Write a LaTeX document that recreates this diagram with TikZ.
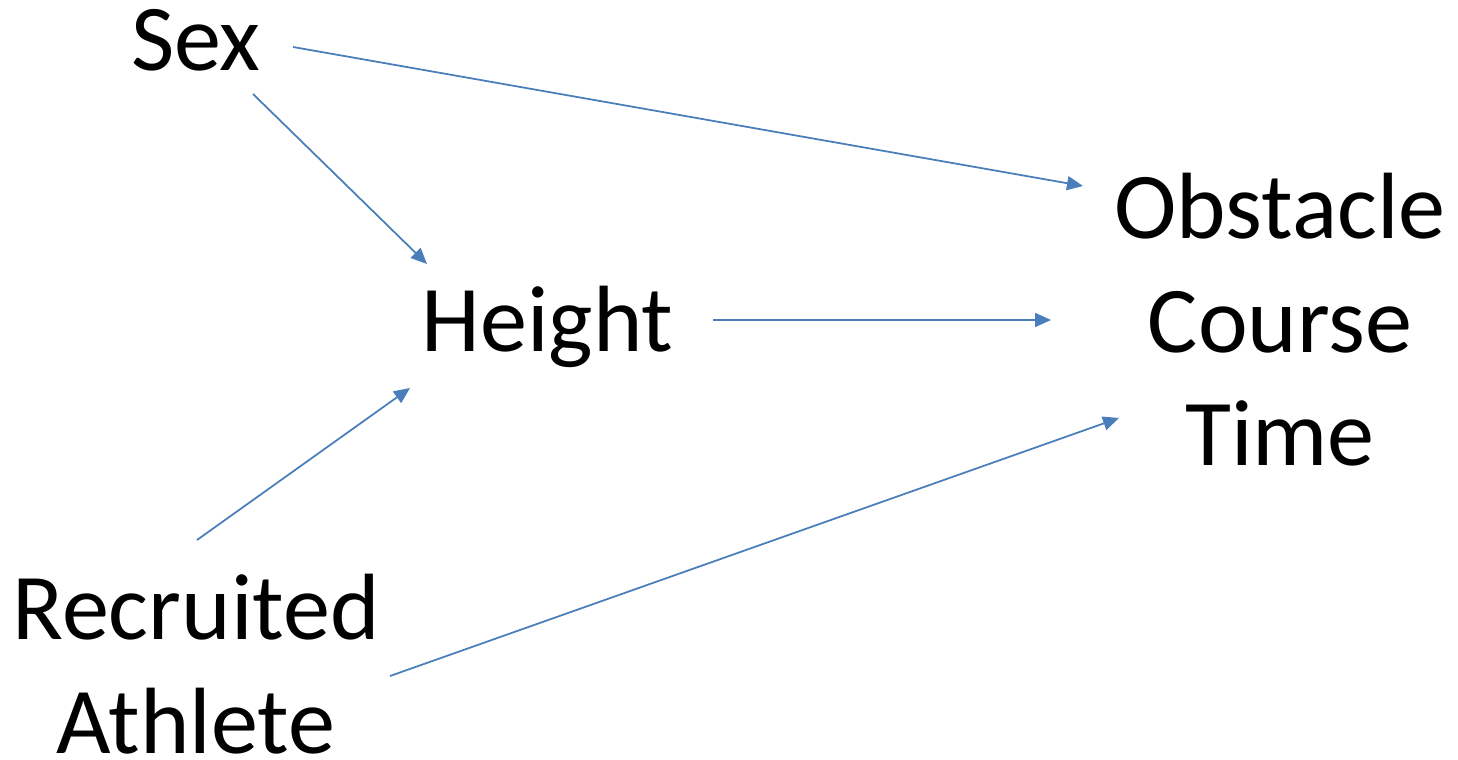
\documentclass[tikz,border=0pt]{standalone}
\usepackage{fontspec}
\setmainfont{Carlito}
\usepackage{tikz}
\usetikzlibrary{arrows.meta}

\definecolor{arrowblue}{RGB}{74,126,187}

\begin{document}
\begin{tikzpicture}[
  font=\fontsize{26.8pt}{32.3pt}\selectfont,
  var/.style={inner sep=0pt, align=center},
  arr/.style={-{Triangle[length=0.16cm, width=0.14cm]}, arrowblue, line width=0.5pt},
]
\useasboundingbox (0,0) rectangle (14.58,7.59);

\node[var, anchor=base] (sex) at (1.96,6.88) {Sex};
\node[var, anchor=base] (height) at (5.475,4.07) {Height};
\node[var] (obst) at (12.80,4.39) {Obstacle\\Course\\Time};
\node[var] (recr) at (1.96,0.95) {Recruited\\Athlete};

\draw[arr] ([shift={(0.97,0.24)}]sex.base) -- ([shift={(-1.97,1.34)}]obst.center);
\draw[arr] ([shift={(0.57,-0.23)}]sex.base) -- ([shift={(-1.205,0.88)}]height.base);
\draw[arr] ([shift={(1.655,0.32)}]height.base) -- ([shift={(-2.29,0)}]obst.center);
\draw[arr] ([shift={(0.01,1.24)}]recr.center) -- ([shift={(-1.375,-0.36)}]height.base);
\draw[arr] ([shift={(1.94,-0.12)}]recr.center) -- ([shift={(-1.61,-0.98)}]obst.center);
\end{tikzpicture}
\end{document}
